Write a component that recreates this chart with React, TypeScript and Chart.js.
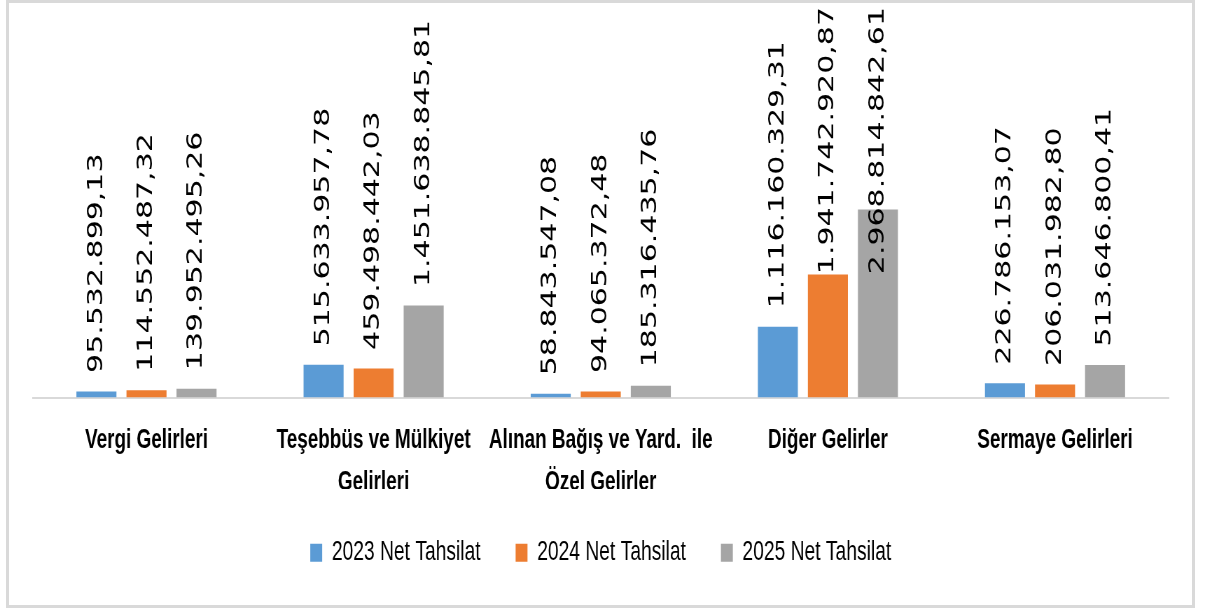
import React, { useEffect, useRef } from "react";
import { Chart, registerables } from "chart.js";

Chart.register(...registerables);

// ---- data ----
const categories: (string | string[])[] = [
  "Vergi Gelirleri",
  ["Teşebbüs ve Mülkiyet", "Gelirleri"],
  ["Alınan Bağış ve Yard.  ile", "Özel Gelirler"],
  "Diğer Gelirler",
  "Sermaye Gelirleri",
];
const seriesNames = ["2023 Net Tahsilat", "2024 Net Tahsilat", "2025 Net Tahsilat"];
const values2023 = [95532899.13, 515633957.78, 58843547.08, 1116160329.31, 226786153.07];
const values2024 = [114552487.32, 459498442.03, 94065372.48, 1941742920.87, 206031982.8];
const values2025 = [139952495.26, 1451638845.81, 185316435.76, 2968814842.61, 513646800.41];
const seriesValues = [values2023, values2024, values2025];
const seriesColors = ["#5B9BD5", "#ED7D31", "#A5A5A5"];
const yAxisMax = 6.15e9;

// ---- layout (internal canvas is drawn wider, then squeezed horizontally) ----
const PAGE_W = 1205;
const PAGE_H = 612;
const INNER_W = 1721;
const SX = PAGE_W / INNER_W;

function formatTR(v: number): string {
  const [i, d] = v.toFixed(2).split(".");
  return i.replace(/\B(?=(\d{3})+(?!\d))/g, ".") + "," + d;
}

const valueLabelPlugin = {
  id: "valueLabels",
  afterDatasetsDraw(chart: any) {
    const ctx = chart.ctx as CanvasRenderingContext2D;
    ctx.save();
    ctx.font = '30px "DejaVu Sans", Verdana, sans-serif';
    ctx.fillStyle = "#000000";
    ctx.textAlign = "left";
    ctx.textBaseline = "middle";
    chart.data.datasets.forEach((ds: any, di: number) => {
      const meta = chart.getDatasetMeta(di);
      meta.data.forEach((bar: any, j: number) => {
        const text = formatTR(ds.data[j]);
        const w = ctx.measureText(text).width;
        let anchor = bar.y - 18.5;
        if (anchor - w < 7) anchor = 7 + w;
        ctx.save();
        ctx.translate(bar.x, anchor);
        ctx.rotate(-Math.PI / 2);
        ctx.fillText(text, 0, 0);
        ctx.restore();
      });
    });
    ctx.restore();
  },
};

export default function App() {
  const canvasRef = useRef<HTMLCanvasElement | null>(null);

  useEffect(() => {
    if (!canvasRef.current) return;
    const chart = new Chart(canvasRef.current, {
      type: "bar",
      data: {
        labels: categories,
        datasets: seriesNames.map((name, i) => ({
          label: name,
          data: seriesValues[i],
          backgroundColor: seriesColors[i],
          borderWidth: 0,
          categoryPercentage: 0.661,
          barPercentage: 0.8,
        })),
      },
      options: {
        animation: false,
        responsive: true,
        maintainAspectRatio: false,
        devicePixelRatio: 1,
        layout: { padding: { left: 47, right: 52, top: 8, bottom: 35.5 } },
        plugins: {
          tooltip: { enabled: false },
          title: { display: false },
          legend: {
            display: true,
            position: "bottom",
            align: "center",
            labels: {
              boxWidth: 17,
              boxHeight: 18,
              padding: 50,
              color: "#000000",
              font: { family: '"Liberation Sans", Arial, sans-serif', size: 27.5 },
            },
          },
        },
        scales: {
          x: {
            grid: { display: false, drawTicks: false },
            border: { display: true, color: "#d9d9d9", width: 2 },
            ticks: {
              autoSkip: false,
              maxRotation: 0,
              minRotation: 0,
              padding: 22,
              color: "#000000",
              font: {
                family: '"Liberation Sans", Arial, sans-serif',
                size: 27,
                weight: "bold",
                lineHeight: "42px",
              },
            },
            afterFit: (scale: any) => {
              scale.height = 91.5;
            },
          },
          y: {
            display: false,
            min: 0,
            max: yAxisMax,
          },
        },
      },
      plugins: [valueLabelPlugin],
    });
    return () => chart.destroy();
  }, []);

  return (
    <div
      style={{
        position: "fixed",
        left: 0,
        top: 0,
        width: PAGE_W,
        height: PAGE_H,
        background: "#ffffff",
        overflow: "hidden",
      }}
    >
      <div
        style={{
          position: "absolute",
          left: 0,
          top: 0,
          width: INNER_W,
          height: PAGE_H,
          transform: `scaleX(${SX})`,
          transformOrigin: "0 0",
        }}
      >
        <canvas ref={canvasRef} />
      </div>
      <div
        style={{
          position: "absolute",
          left: 6,
          top: 0,
          width: 1189,
          height: 608,
          border: "3px solid #d9d9d9",
          boxSizing: "border-box",
          pointerEvents: "none",
        }}
      />
    </div>
  );
}
